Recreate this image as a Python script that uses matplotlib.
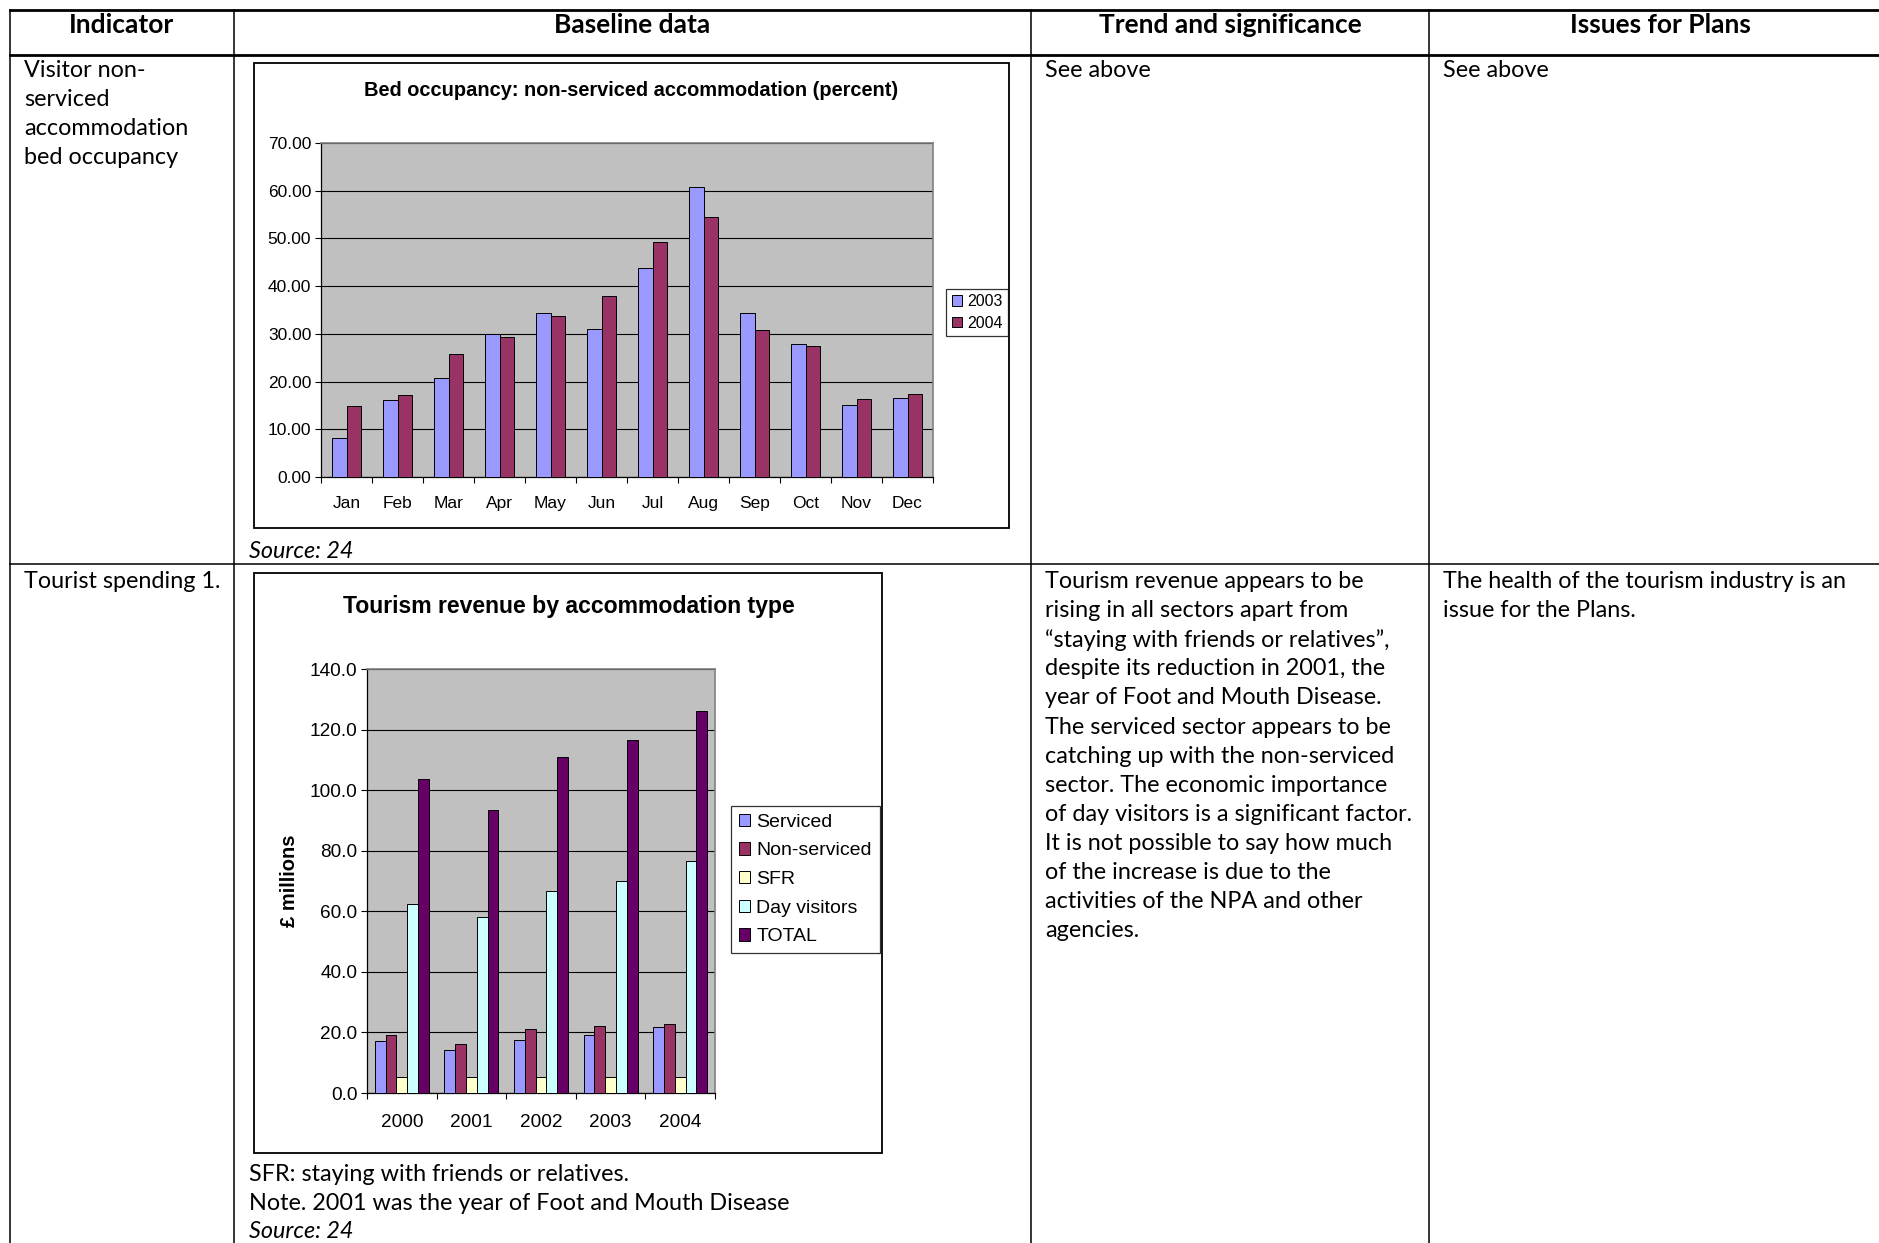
import numpy as np
import matplotlib
matplotlib.use('Agg')
import matplotlib.pyplot as plt
from matplotlib.patches import Rectangle

W, H = 1879, 1243

# bed occupancy data (percent)
months = ['Jan', 'Feb', 'Mar', 'Apr', 'May', 'Jun', 'Jul', 'Aug', 'Sep', 'Oct', 'Nov', 'Dec']
occ_2003 = [8.2, 16.1, 20.7, 29.9, 34.4, 31.1, 43.8, 60.7, 34.4, 27.9, 15.0, 16.5]
occ_2004 = [14.8, 17.1, 25.7, 29.3, 33.7, 37.9, 49.2, 54.5, 30.8, 27.4, 16.3, 17.3]

# tourism revenue (GBP millions)
years = ['2000', '2001', '2002', '2003', '2004']
serviced = [17.1, 14.1, 17.6, 19.0, 21.8]
non_serviced = [19.0, 16.1, 21.2, 22.2, 22.7]
sfr = [5.2, 5.2, 5.2, 5.2, 5.2]
day_visitors = [62.3, 58.1, 66.6, 70.0, 76.6]
total = [103.8, 93.3, 111.0, 116.5, 126.1]

headers = ['Indicator', 'Baseline data', 'Trend and significance', 'Issues for Plans']
trend_text = ['Tourism revenue appears to be',
              'rising in all sectors apart from',
              '\u201cstaying with friends or relatives\u201d,',
              'despite its reduction in 2001, the',
              'year of Foot and Mouth Disease.',
              'The serviced sector appears to be',
              'catching up with the non-serviced',
              'sector. The economic importance',
              'of day visitors is a significant factor.',
              'It is not possible to say how much',
              'of the increase is due to the',
              'activities of the NPA and other',
              'agencies.']

body_font = 'Lato'
chart_font = 'Liberation Sans'
fs = 16.8

fig = plt.figure(figsize=(W / 100, H / 100), dpi=100)
ax0 = fig.add_axes([0, 0, 1, 1])
ax0.set_xlim(0, W)
ax0.set_ylim(H, 0)
ax0.axis('off')

# table rules
ax0.plot([10, W], [10, 10], color='black', lw=2.0)
ax0.plot([10, W], [55, 55], color='black', lw=2.0)
ax0.plot([10, W], [564, 564], color='black', lw=1.1)
for x in [10, 234, 1031, 1429]:
    ax0.plot([x, x], [10, H], color='black', lw=1.1)

# header
col_centers = [122, 632, 1230, 1660]
for cx, h in zip(col_centers, headers):
    ax0.text(cx, 25, h, ha='center', va='center', fontsize=19, fontweight='bold', family=body_font)

lh = 29.1
y1 = 70.5
y2 = 581.5
for i, t in enumerate(['Visitor non-', 'serviced', 'accommodation', 'bed occupancy']):
    ax0.text(24, y1 + i * lh, t, va='center', fontsize=fs, family=body_font)
ax0.text(1045, y1, 'See above', va='center', fontsize=fs, family=body_font)
ax0.text(1443, y1, 'See above', va='center', fontsize=fs, family=body_font)
ax0.text(249, 551.5, 'Source: 24', va='center', fontsize=fs, style='italic', family=body_font)

ax0.text(24, y2, 'Tourist spending 1.', va='center', fontsize=fs, family=body_font)
for i, t in enumerate(trend_text):
    ax0.text(1045, y2 + i * lh, t, va='center', fontsize=fs, family=body_font)
ax0.text(1443, y2, 'The health of the tourism industry is an', va='center', fontsize=fs, family=body_font)
ax0.text(1443, y2 + lh, 'issue for the Plans.', va='center', fontsize=fs, family=body_font)
ax0.text(249, 1174.5, 'SFR: staying with friends or relatives.', va='center', fontsize=fs, family=body_font)
ax0.text(249, 1203.5, 'Note. 2001 was the year of Foot and Mouth Disease', va='center', fontsize=fs, family=body_font)
ax0.text(249, 1231.5, 'Source: 24', va='center', fontsize=fs, style='italic', family=body_font)

# chart frames
ax0.add_patch(Rectangle((254, 63), 755, 465, fill=False, ec='black', lw=1.3))
ax0.add_patch(Rectangle((254, 573), 628, 580, fill=False, ec='black', lw=1.3))
ax0.text(631, 90, 'Bed occupancy: non-serviced accommodation (percent)', ha='center', va='center',
         fontsize=14.4, fontweight='bold', family=chart_font)
ax0.text(569, 606, 'Tourism revenue by accommodation type', ha='center', va='center',
         fontsize=16.6, fontweight='bold', family=chart_font)


def style_axes(ax, ymax, step, fmt, ncat, fsz, xpad):
    ax.set_facecolor('#C0C0C0')
    ax.set_ylim(0, ymax)
    ax.set_xlim(-0.5, ncat - 0.5)
    ax.set_yticks(np.arange(0, ymax + 0.1, step))
    ax.set_yticklabels([fmt % v for v in np.arange(0, ymax + 0.1, step)], family=chart_font, fontsize=fsz)
    ax.yaxis.grid(True, color='black', lw=0.8)
    ax.set_axisbelow(True)
    ax.set_xticks(np.arange(-0.5, ncat, 1.0))
    ax.set_xticklabels([])
    ax.tick_params(axis='x', which='major', length=4, width=0.8, direction='out')
    ax.tick_params(axis='y', length=4, width=0.8, pad=3)
    ax.set_xticks(np.arange(ncat), minor=True)
    ax.tick_params(axis='x', which='minor', length=0, pad=xpad)
    for s in ['top', 'right']:
        ax.spines[s].set_color('#808080')
        ax.spines[s].set_linewidth(1.2)
    for s in ['left', 'bottom']:
        ax.spines[s].set_color('black')
        ax.spines[s].set_linewidth(0.9)


# chart 1
ax1 = fig.add_axes([321 / W, 1 - 477 / H, 612 / W, 334 / H])
style_axes(ax1, 70, 10, '%.2f', 12, 12.5, 13.5)
ax1.set_xticklabels(months, minor=True, family=chart_font, fontsize=12.5)
x = np.arange(12)
bw = 0.29
ax1.bar(x - bw / 2, occ_2003, bw, color='#9999FF', edgecolor='black', lw=0.7, label='2003', zorder=3)
ax1.bar(x + bw / 2, occ_2004, bw, color='#993366', edgecolor='black', lw=0.7, label='2004', zorder=3)
leg1 = ax1.legend(loc='center left', bbox_to_anchor=(1.022, 0.4925), frameon=True, fancybox=False,
                  prop={'family': chart_font, 'size': 11.5}, handlelength=0.65, handleheight=0.65,
                  handletextpad=0.3, labelspacing=0.4, borderpad=0.35, borderaxespad=0)
leg1.get_frame().set_edgecolor('black')
leg1.get_frame().set_linewidth(0.9)

# chart 2
ax2 = fig.add_axes([367 / W, 1 - 1093 / H, 348 / W, 424 / H])
style_axes(ax2, 140, 20, '%.1f', 5, 13.7, 15)
ax2.set_xticklabels(years, minor=True, family=chart_font, fontsize=13.7)
x = np.arange(5)
bw = 0.155
series = [(serviced, '#9999FF', 'Serviced'),
          (non_serviced, '#993366', 'Non-serviced'),
          (sfr, '#FFFFCC', 'SFR'),
          (day_visitors, '#CCFFFF', 'Day visitors'),
          (total, '#660066', 'TOTAL')]
for k, (vals, col, lab) in enumerate(series):
    ax2.bar(x + (k - 2) * bw, vals, bw, color=col, edgecolor='black', lw=0.7, label=lab, zorder=3)
ax2.set_ylabel('\u00a3 millions', family=chart_font, fontsize=14.5, fontweight='bold')
ax2.yaxis.set_label_coords((299 - 367) / 348, 0.5)
leg2 = ax2.legend(loc='center left', bbox_to_anchor=(1.046, 0.5035), frameon=True, fancybox=False,
                  prop={'family': chart_font, 'size': 14}, handlelength=0.6, handleheight=0.6,
                  handletextpad=0.3, labelspacing=0.6, borderpad=0.4, borderaxespad=0)
leg2.get_frame().set_edgecolor('black')
leg2.get_frame().set_linewidth(0.9)

fig.savefig('out.png', dpi=100)
